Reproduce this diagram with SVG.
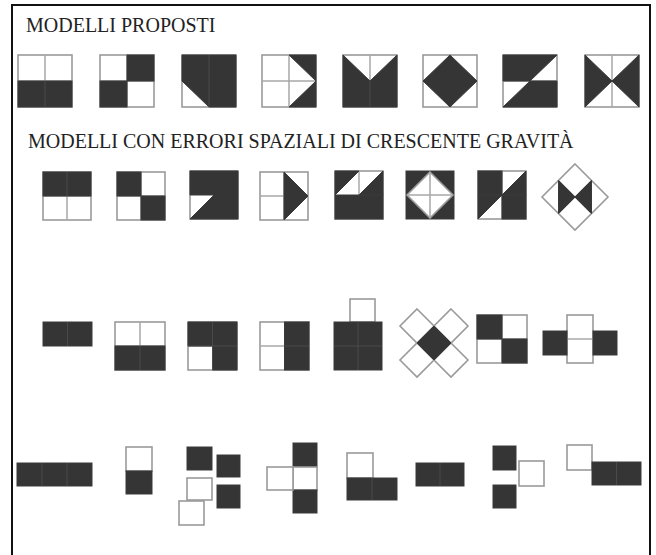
<svg xmlns="http://www.w3.org/2000/svg" width="656" height="555" viewBox="0 0 656 555">
<style>
.t{font-family:"Liberation Serif","Times New Roman",serif;font-size:20px;fill:#222}
.w{fill:#fff;stroke:#9a9a9a;stroke-width:1.6}
.g{fill:none;stroke:#a8a8a8;stroke-width:1.5}
.d{fill:#353535;stroke:#3a3a3a;stroke-width:1}
.dl{fill:none;stroke:#4a4a4a;stroke-width:1}
</style>
<rect width="656" height="555" fill="#fff"/>
<path d="M12,556 V5 H650 V556" fill="none" stroke="#111" stroke-width="2"/>
<text class="t" x="26" y="32">MODELLI PROPOSTI</text>
<text class="t" x="28" y="148">MODELLI CON ERRORI SPAZIALI DI CRESCENTE GRAVITÀ</text>

<!-- Row 1 -->
<g id="r1s1" transform="translate(18,55)">
<rect class="w" x="0" y="0" width="54" height="52"/><path class="g" d="M27,0V52M0,26H54"/>
<rect class="d" x="0" y="26" width="54" height="26"/><path class="dl" d="M27,26V52"/>
</g>
<g id="r1s2" transform="translate(100,55)">
<rect class="w" x="0" y="0" width="54" height="52"/><path class="g" d="M27,0V52M0,26H54"/>
<rect class="d" x="27" y="0" width="27" height="26"/><rect class="d" x="0" y="26" width="27" height="26"/>
</g>
<g id="r1s3" transform="translate(182,55)">
<rect class="w" x="0" y="0" width="54" height="52"/>
<polygon class="d" points="0,0 54,0 54,52 27,52 0,26"/><path class="dl" d="M27,0V52"/>
</g>
<g id="r1s4" transform="translate(262,55)">
<rect class="w" x="0" y="0" width="54" height="52"/><path class="g" d="M27,0V52M0,26H54"/>
<polygon class="d" points="27,0 54,0 54,26"/><polygon class="d" points="27,52 54,52 54,26"/>
</g>
<g id="r1s5" transform="translate(343,55)">
<rect class="w" x="0" y="0" width="54" height="52"/><path class="g" d="M27,0V26"/>
<polygon class="d" points="0,0 27,26 54,0 54,52 0,52"/><path class="dl" d="M27,26V52"/>
</g>
<g id="r1s6" transform="translate(423,55)">
<rect class="w" x="0" y="0" width="54" height="52"/><path class="g" d="M27,0V52M0,26H54"/>
<polygon class="d" points="27,0 54,26 27,52 0,26"/>
</g>
<g id="r1s7" transform="translate(503,55)">
<rect class="w" x="0" y="0" width="54" height="52"/><path class="g" d="M27,0V52M0,26H54"/>
<polygon class="d" points="0,0 54,0 27,26 0,26"/><polygon class="d" points="27,26 54,26 54,52 0,52"/>
</g>
<g id="r1s8" transform="translate(585,55)">
<rect class="w" x="0" y="0" width="54" height="52"/><path class="g" d="M27,0V52"/>
<polygon class="d" points="0,0 27,26 0,52"/><polygon class="d" points="54,0 27,26 54,52"/>
</g>

<!-- Row 2 -->
<g id="r2s1" transform="translate(43,172)">
<rect class="w" x="0" y="0" width="48" height="48"/><path class="g" d="M24,0V48M0,24H48"/>
<rect class="d" x="0" y="0" width="48" height="24"/><path class="dl" d="M24,0V24"/>
</g>
<g id="r2s2" transform="translate(117,172)">
<rect class="w" x="0" y="0" width="48" height="48"/><path class="g" d="M24,0V48M0,24H48"/>
<rect class="d" x="0" y="0" width="24" height="24"/><rect class="d" x="24" y="24" width="24" height="24"/>
</g>
<g id="r2s3" transform="translate(190,171)">
<rect class="w" x="0" y="0" width="48" height="48"/>
<polygon class="d" points="0,0 48,0 48,48 0,48 24,24 0,24"/>
</g>
<g id="r2s4" transform="translate(260,172)">
<rect class="w" x="0" y="0" width="48" height="48"/><path class="g" d="M24,0V48M0,24H48"/>
<polygon class="d" points="24,0 48,24 24,48"/>
</g>
<g id="r2s5" transform="translate(335,171)">
<rect class="w" x="0" y="0" width="48" height="48"/><path class="g" d="M24,0V24"/>
<polygon class="d" points="0,0 24,0 0,24"/><polygon class="d" points="48,0 48,24 24,24"/>
<rect class="d" x="0" y="24" width="48" height="24"/>
</g>
<g id="r2s6" transform="translate(406,171)">
<rect class="d" x="0" y="0" width="48" height="48"/>
<polygon class="w" points="24,1 47,24 24,47 1,24" stroke="#ddd"/><path class="g" d="M24,1V47M1,24H47"/>
</g>
<g id="r2s7" transform="translate(478,171)">
<rect class="w" x="0" y="0" width="48" height="48"/><path class="g" d="M24,0V48"/>
<rect class="d" x="0" y="0" width="24" height="24"/><polygon class="d" points="0,24 24,24 0,48"/>
<polygon class="d" points="48,0 48,24 24,24"/><rect class="d" x="24" y="24" width="24" height="24"/>
</g>
<g id="r2s8">
<polygon class="w" points="575,164 608,197 575,230 542,197"/>
<path class="g" d="M558.5,180.5L591.5,213.5M591.5,180.5L558.5,213.5"/>
<polygon class="d" points="558.5,180.5 575,197 558.5,213.5"/><polygon class="d" points="591.5,180.5 575,197 591.5,213.5"/>
</g>

<!-- Row 3 -->
<g id="r3s1">
<rect class="d" x="43" y="322" width="49" height="24"/><path class="dl" d="M67.5,322V346"/>
</g>
<g id="r3s2" transform="translate(115,322)">
<rect class="w" x="0" y="0" width="50" height="48"/><path class="g" d="M25,0V48M0,24H50"/>
<rect class="d" x="0" y="24" width="50" height="24"/><path class="dl" d="M25,24V48"/>
</g>
<g id="r3s3" transform="translate(188,322)">
<rect class="w" x="0" y="0" width="49" height="48"/>
<polygon class="d" points="0,0 49,0 49,48 24.5,48 24.5,24 0,24"/><path class="dl" d="M24.5,0V48M0,24H49"/>
</g>
<g id="r3s4" transform="translate(260,322)">
<rect class="w" x="0" y="0" width="49" height="48"/><path class="g" d="M0,24H24.5"/>
<rect class="d" x="24.5" y="0" width="24.5" height="48"/><path class="dl" d="M24.5,24H49"/>
</g>
<g id="r3s5">
<rect class="w" x="350" y="299" width="25" height="23"/>
<rect class="d" x="334" y="322" width="48" height="48"/><path class="dl" d="M358,322V370M334,346H382"/>
</g>
<g id="r3s6">
<polygon class="w" points="417,309 434,326 417,343 400,326"/>
<polygon class="w" points="451,309 468,326 451,343 434,326"/>
<polygon class="w" points="417,343 434,360 417,377 400,360"/>
<polygon class="w" points="451,343 468,360 451,377 434,360"/>
<polygon class="d" points="434,326 451,343 434,360 417,343"/>
</g>
<g id="r3s7" transform="translate(477,315)">
<rect class="w" x="0" y="0" width="50" height="48"/><path class="g" d="M25,0V48M0,24H50"/>
<rect class="d" x="0" y="0" width="25" height="24"/><rect class="d" x="25" y="24" width="25" height="24"/>
</g>
<g id="r3s8">
<rect class="w" x="567" y="315" width="26" height="48"/><path class="g" d="M567,339H593"/>
<rect class="d" x="543" y="331" width="24" height="24"/><rect class="d" x="593" y="331" width="24" height="24"/>
</g>

<!-- Row 4 -->
<g id="r4s1">
<rect class="d" x="17" y="463" width="75" height="23"/><path class="dl" d="M42,463V486M67,463V486"/>
</g>
<g id="r4s2">
<rect class="w" x="126" y="447" width="26" height="24"/><rect class="d" x="126" y="471" width="26" height="23"/>
</g>
<g id="r4s3">
<rect class="d" x="187" y="447" width="25" height="23"/>
<rect class="d" x="217" y="455" width="23" height="22"/>
<rect class="w" x="187" y="478" width="25" height="22"/>
<rect class="w" x="179" y="501" width="25" height="24"/>
<rect class="d" x="217" y="485" width="23" height="23"/>
</g>
<g id="r4s4">
<rect class="d" x="293" y="443" width="24" height="24"/>
<rect class="w" x="293" y="467" width="24" height="23"/>
<rect class="d" x="293" y="490" width="24" height="23"/>
<rect class="w" x="267" y="467" width="26" height="23"/>
</g>
<g id="r4s5">
<rect class="w" x="347" y="453" width="26" height="25"/>
<rect class="d" x="347" y="478" width="50" height="22"/><path class="dl" d="M372,478V500"/>
</g>
<g id="r4s6">
<rect class="d" x="416" y="463" width="48" height="23"/><path class="dl" d="M440,463V486"/>
</g>
<g id="r4s7">
<rect class="d" x="493" y="446" width="23" height="24"/>
<rect class="w" x="519" y="461" width="25" height="25"/>
<rect class="d" x="493" y="485" width="23" height="23"/>
</g>
<g id="r4s8">
<rect class="w" x="567" y="445" width="25" height="25"/>
<rect class="d" x="592" y="462" width="49" height="23"/><path class="dl" d="M616.5,462V485"/>
</g>
<g id="connectors"/>
</svg>
